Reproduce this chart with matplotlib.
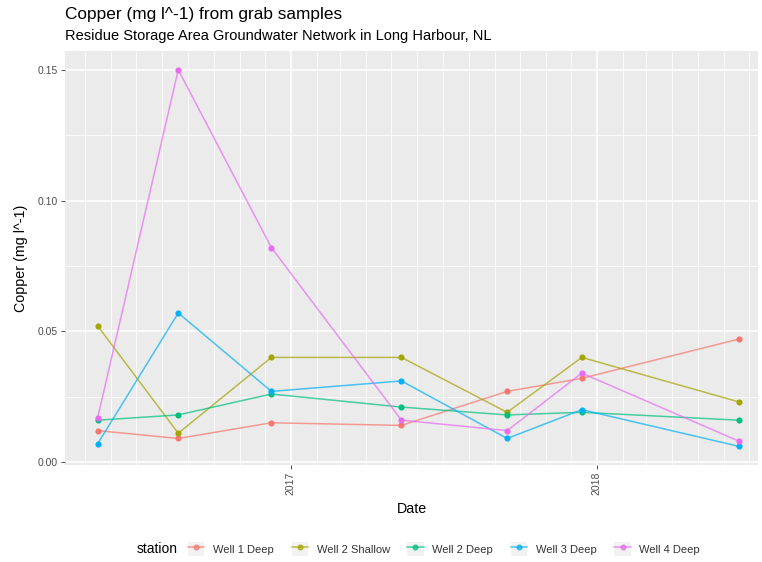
import matplotlib
matplotlib.use("Agg")
import matplotlib.pyplot as plt
import matplotlib.dates as mdates
from matplotlib.patches import Rectangle
from matplotlib.lines import Line2D
from matplotlib.legend_handler import HandlerTuple
import pandas as pd

plt.rcParams["font.family"] = ["Liberation Sans", "DejaVu Sans"]

# Sampling dates and copper concentrations (mg l^-1) per station
dates = ["2016-05-16", "2016-08-20", "2016-12-09", "2017-05-13",
         "2017-09-16", "2017-12-14", "2018-06-19"]
stations = ["Well 1 Deep", "Well 2 Shallow", "Well 2 Deep", "Well 3 Deep", "Well 4 Deep"]
well1_deep = [0.012, 0.009, 0.015, 0.014, 0.027, 0.032, 0.047]
well2_shallow = [0.052, 0.011, 0.040, 0.040, 0.019, 0.040, 0.023]
well2_deep = [0.016, 0.018, 0.026, 0.021, 0.018, 0.019, 0.016]
well3_deep = [0.007, 0.057, 0.027, 0.031, 0.009, 0.020, 0.006]
well4_deep = [0.017, 0.150, 0.082, 0.016, 0.012, 0.034, 0.008]
series = [well1_deep, well2_shallow, well2_deep, well3_deep, well4_deep]
colors = ["#F8766D", "#A3A500", "#00BF7D", "#00B0F6", "#E76BF3"]
y_ticks = [0.00, 0.05, 0.10, 0.15]

x = pd.to_datetime(dates)

W, H = 762, 562
fig = plt.figure(figsize=(W / 100, H / 100), dpi=100)
fig.patch.set_facecolor("white")
ax = fig.add_axes([65 / W, 1 - 465 / H, (758 - 65) / W, (465 - 51) / H])
ax.set_facecolor("#EBEBEB")

for vals, col in zip(series, colors):
    ax.plot(x, vals, color=col, lw=1.1, alpha=0.7, zorder=3)
    ax.plot(x, vals, ls="none", marker="o", ms=3.4, color=col, zorder=4)

ax.set_xlim(pd.Timestamp("2016-04-07"), pd.Timestamp("2018-07-12"))
ax.set_ylim(-0.00115, 0.1572)

ax.xaxis.set_major_locator(mdates.YearLocator())
ax.xaxis.set_major_formatter(mdates.DateFormatter("%Y"))
ax.xaxis.set_minor_locator(mdates.MonthLocator())
ax.set_yticks(y_ticks)
ax.set_yticklabels([f"{v:.2f}" for v in y_ticks])
ax.set_yticks([0.025, 0.075, 0.125], minor=True)

ax.grid(which="major", color="white", lw=1.1, zorder=1)
ax.grid(which="minor", color="white", lw=0.55, zorder=1)
ax.set_axisbelow(True)
for s in ax.spines.values():
    s.set_visible(False)

ax.tick_params(which="major", length=3, width=0.6, color="#333333",
               labelsize=7.5, labelcolor="#4D4D4D", pad=2)
ax.tick_params(which="minor", length=0)
plt.setp(ax.get_xticklabels(), rotation=90, va="top", ha="center")

ax.set_xlabel("Date", fontsize=10.3, labelpad=5)
ax.set_ylabel("Copper (mg l^-1)", fontsize=10.3, labelpad=7)

fig.text(65 / W, 1 - 14 / H, "Copper (mg l^-1) from grab samples",
         fontsize=12.4, ha="left", va="center")
fig.text(65 / W, 1 - 36 / H,
         "Residue Storage Area Groundwater Network in Long Harbour, NL",
         fontsize=10.5, ha="left", va="center")

# Legend with grey key boxes
handles = []
for col in colors:
    box = Rectangle((0, 0), 1, 1, facecolor="#F2F2F2", edgecolor="none")
    ln = Line2D([], [], color=col, lw=1.1, alpha=0.7, marker="o", ms=3.4,
                markerfacecolor=col, markeredgecolor=col)
    handles.append((box, ln))
leg = fig.legend(handles, stations, ncol=5, loc="center left",
                 bbox_to_anchor=(188 / W, 1 - 549 / H), frameon=False,
                 fontsize=8.0, handlelength=1.45, handleheight=1.6,
                 handletextpad=0.8, columnspacing=1.6, borderpad=0,
                 borderaxespad=0,
                 handler_map={tuple: HandlerTuple(ndivide=1, pad=0)})
for t in leg.get_texts():
    t.set_color("#333333")
fig.text(137 / W, 1 - 549 / H, "station", fontsize=10, ha="left", va="center")

fig.savefig("out.png", dpi=100)
